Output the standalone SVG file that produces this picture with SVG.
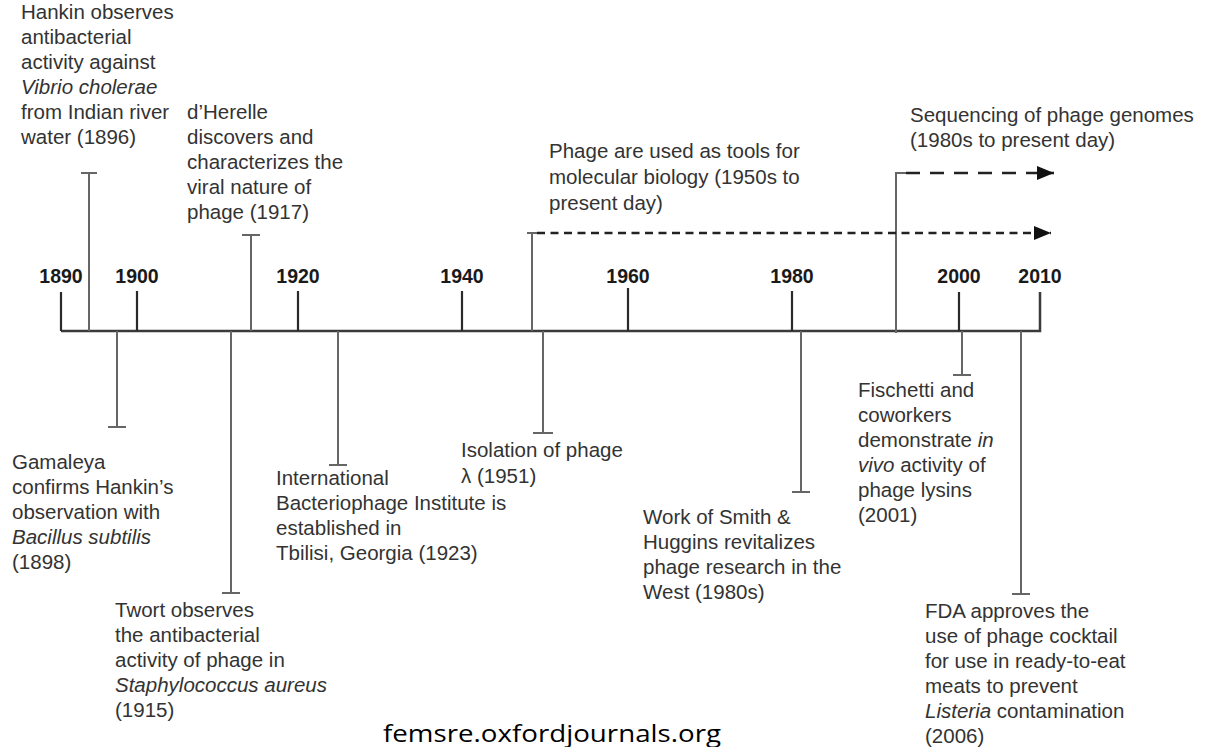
<svg xmlns="http://www.w3.org/2000/svg" width="1206" height="747" viewBox="0 0 1206 747">
<style>
.t{font-family:"Liberation Sans",Arial,sans-serif;font-size:20.5px;fill:#333}
.yr{font-family:"Liberation Sans",Arial,sans-serif;font-size:19.5px;font-weight:bold;fill:#1a1a1a;text-anchor:middle}
.i{font-style:italic}
.ax{stroke:#3a3a3a;stroke-width:2.5;fill:none}
.tk{stroke:#2a2a2a;stroke-width:2.2;fill:none}
.ev{stroke:#666;stroke-width:2;fill:none}
.d1{stroke:#222;stroke-width:2.5;fill:none;stroke-dasharray:14 10}
.d2{stroke:#222;stroke-width:2.5;fill:none;stroke-dasharray:8 5.5}
.wm{font-family:"Open Sans","Liberation Sans",sans-serif;font-size:24px;fill:#000}
</style>
<defs>
<marker id="ah" viewBox="0 0 17 14" refX="17" refY="7" markerWidth="17" markerHeight="14" markerUnits="userSpaceOnUse" orient="auto">
<path d="M0,0 L17,7 L0,14 Z" fill="#111"/>
</marker>
</defs>
<rect width="1206" height="747" fill="#fff"/>
<g id="connectors">
<path class="ax" d="M61,331 H1040 V292"/>
<path class="tk" d="M61,331 V292 M137,331 V291 M298,331 V291 M462,331 V291 M628,331 V288 M792,331 V291 M959,331 V292"/>
<path class="ev" d="M89,331 V173 M81,173 H97 M251,331 V235 M242,235 H260"/>
<path class="ev" d="M532,331 V233 M527,233 H537"/>
<path class="ev" d="M896,333 V173 H906"/>
<path class="d1" d="M906,173 H1054" marker-end="url(#ah)"/>
<path class="d2" d="M537,233 H1051" marker-end="url(#ah)"/>
<path class="ev" d="M117,331 V427 M108,427 H126 M231,331 V593 M222,593 H240 M338,331 V465 M329,465 H347 M543,331 V433 M533,433 H553 M801,331 V492 M792,492 H810 M962,331 V375 M953,375 H971 M1021,331 V594 M1012,594 H1030"/>
</g>
<g id="years">
<text class="yr" x="61" y="283">1890</text>
<text class="yr" x="137" y="283">1900</text>
<text class="yr" x="298" y="283">1920</text>
<text class="yr" x="462" y="283">1940</text>
<text class="yr" x="628" y="283">1960</text>
<text class="yr" x="792" y="283">1980</text>
<text class="yr" x="959" y="283">2000</text>
<text class="yr" x="1040" y="283">2010</text>
</g>
<g id="hankin"><text class="t" x="21" y="19"><tspan x="21">Hankin observes</tspan><tspan x="21" dy="25">antibacterial</tspan><tspan x="21" dy="25">activity against</tspan><tspan x="21" dy="25" class="i">Vibrio cholerae</tspan><tspan x="21" dy="25">from Indian river</tspan><tspan x="21" dy="25">water (1896)</tspan></text></g>
<g id="dherelle"><text class="t" x="187" y="119"><tspan x="187">d’Herelle</tspan><tspan x="187" dy="25">discovers and</tspan><tspan x="187" dy="25">characterizes the</tspan><tspan x="187" dy="25">viral nature of</tspan><tspan x="187" dy="25">phage (1917)</tspan></text></g>
<g id="tools"><text class="t" x="549" y="158"><tspan x="549">Phage are used as tools for</tspan><tspan x="549" dy="26">molecular biology (1950s to</tspan><tspan x="549" dy="26">present day)</tspan></text></g>
<g id="sequencing"><text class="t" x="910" y="122"><tspan x="910">Sequencing of phage genomes</tspan><tspan x="910" dy="25">(1980s to present day)</tspan></text></g>
<g id="gamaleya"><text class="t" x="12" y="469"><tspan x="12">Gamaleya</tspan><tspan x="12" dy="25">confirms Hankin’s</tspan><tspan x="12" dy="25">observation with</tspan><tspan x="12" dy="25" class="i">Bacillus subtilis</tspan><tspan x="12" dy="25">(1898)</tspan></text></g>
<g id="twort"><text class="t" x="115" y="617"><tspan x="115">Twort observes</tspan><tspan x="115" dy="25">the antibacterial</tspan><tspan x="115" dy="25">activity of phage in</tspan><tspan x="115" dy="25" class="i">Staphylococcus aureus</tspan><tspan x="115" dy="25">(1915)</tspan></text></g>
<g id="institute"><text class="t" x="276" y="485"><tspan x="276">International</tspan><tspan x="276" dy="25">Bacteriophage Institute is</tspan><tspan x="276" dy="25">established in</tspan><tspan x="276" dy="25">Tbilisi, Georgia (1923)</tspan></text></g>
<g id="isolation"><text class="t" x="461" y="457"><tspan x="461">Isolation of phage</tspan><tspan x="461" dy="26">λ (1951)</tspan></text></g>
<g id="smith"><text class="t" x="643" y="524"><tspan x="643">Work of Smith &amp;</tspan><tspan x="643" dy="25">Huggins revitalizes</tspan><tspan x="643" dy="25">phage research in the</tspan><tspan x="643" dy="25">West (1980s)</tspan></text></g>
<g id="fischetti"><text class="t" x="858" y="397"><tspan x="858">Fischetti and</tspan><tspan x="858" dy="25">coworkers</tspan><tspan x="858" dy="25">demonstrate <tspan class="i">in</tspan></tspan><tspan x="858" dy="25"><tspan class="i">vivo</tspan> activity of</tspan><tspan x="858" dy="25">phage lysins</tspan><tspan x="858" dy="25">(2001)</tspan></text></g>
<g id="fda"><text class="t" x="925" y="618"><tspan x="925">FDA approves the</tspan><tspan x="925" dy="25">use of phage cocktail</tspan><tspan x="925" dy="25">for use in ready-to-eat</tspan><tspan x="925" dy="25">meats to prevent</tspan><tspan x="925" dy="25"><tspan class="i">Listeria</tspan> contamination</tspan><tspan x="925" dy="25">(2006)</tspan></text></g>
<g id="watermark"><text class="wm" x="383" y="742" textLength="338" lengthAdjust="spacingAndGlyphs">femsre.oxfordjournals.org</text></g>
</svg>
